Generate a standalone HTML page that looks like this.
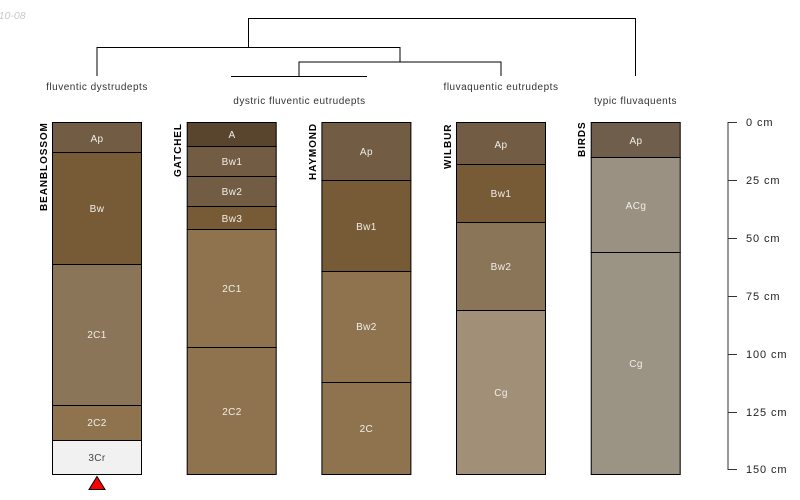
<!DOCTYPE html>
<html><head><meta charset="utf-8"><style>
html,body{margin:0;padding:0;background:#fff}
svg{display:block}
text{font-family:"Liberation Sans",sans-serif}
</style></head><body>
<svg width="800" height="500" viewBox="0 0 800 500" xmlns="http://www.w3.org/2000/svg">
<text x="-13" y="19" font-size="10.5" font-style="italic" fill="#c8c8c8">2010-08</text>
<g fill="none" stroke="#000" stroke-width="1">
<path d="M248.500 47.500V18.500H635.500V76"/>
<path d="M97 76V47.500H400V62"/>
<path d="M299 76V62H501V76"/>
<path d="M231 76.500H367"/>
</g>
<g font-size="10" fill="#333" text-anchor="middle" letter-spacing="0.5">
<text x="97" y="90">fluventic dystrudepts</text>
<text x="299.500" y="104">dystric fluventic eutrudepts</text>
<text x="501" y="90">fluvaquentic eutrudepts</text>
<text x="635.500" y="104">typic fluvaquents</text>
</g>
<g stroke="#000" stroke-width="1">
<rect x="52.500" y="122.500" width="89" height="30" fill="#725C44"/>
<rect x="52.500" y="152.500" width="89" height="112" fill="#775B36"/>
<rect x="52.500" y="264.500" width="89" height="141" fill="#8B7558"/>
<rect x="52.500" y="405.500" width="89" height="35" fill="#8F734F"/>
<rect x="52.500" y="440.500" width="89" height="34" fill="#F1F1F1"/>
<rect x="187.200" y="122.500" width="89" height="24" fill="#59452E"/>
<rect x="187.200" y="146.500" width="89" height="30" fill="#725C44"/>
<rect x="187.200" y="176.500" width="89" height="30" fill="#725C44"/>
<rect x="187.200" y="206.500" width="89" height="23" fill="#775B36"/>
<rect x="187.200" y="229.500" width="89" height="118" fill="#8F734F"/>
<rect x="187.200" y="347.500" width="89" height="127" fill="#8F734F"/>
<rect x="321.900" y="122.500" width="89" height="58" fill="#725C44"/>
<rect x="321.900" y="180.500" width="89" height="91" fill="#775B36"/>
<rect x="321.900" y="271.500" width="89" height="111" fill="#8F734F"/>
<rect x="321.900" y="382.500" width="89" height="92" fill="#8F734F"/>
<rect x="456.500" y="122.500" width="89" height="42" fill="#725C44"/>
<rect x="456.500" y="164.500" width="89" height="58" fill="#775B36"/>
<rect x="456.500" y="222.500" width="89" height="88" fill="#8B7558"/>
<rect x="456.500" y="310.500" width="89" height="164" fill="#A18F78"/>
<rect x="591.200" y="122.500" width="89" height="35" fill="#6F5E4B"/>
<rect x="591.200" y="157.500" width="89" height="95" fill="#9B9183"/>
<rect x="591.200" y="252.500" width="89" height="222" fill="#9B9384"/>
</g>
<g font-size="10" fill="#f0eee8" text-anchor="middle" letter-spacing="0.4">
<text x="97" y="142">Ap</text><text x="97" y="212">Bw</text><text x="97" y="338">2C1</text><text x="97" y="426">2C2</text>
<text x="97" y="461" fill="#444">3Cr</text>
<text x="232" y="138">A</text><text x="232" y="165">Bw1</text><text x="232" y="195">Bw2</text><text x="232" y="222">Bw3</text><text x="232" y="292">2C1</text><text x="232" y="415">2C2</text>
<text x="366.400" y="155">Ap</text><text x="366.400" y="230">Bw1</text><text x="366.400" y="330">Bw2</text><text x="366.400" y="432">2C</text>
<text x="501" y="148">Ap</text><text x="501" y="197">Bw1</text><text x="501" y="270">Bw2</text><text x="501" y="396">Cg</text>
<text x="636" y="144">Ap</text><text x="636" y="209">ACg</text><text x="636" y="367">Cg</text>
</g>
<g font-size="10" font-weight="bold" fill="#000" letter-spacing="0.9">
<text transform="translate(47 211) rotate(-90)">BEANBLOSSOM</text>
<text transform="translate(181 177) rotate(-90)">GATCHEL</text>
<text transform="translate(316 180) rotate(-90)">HAYMOND</text>
<text transform="translate(451 169) rotate(-90)">WILBUR</text>
<text transform="translate(585 157) rotate(-90)">BIRDS</text>
</g>
<path d="M97 476.500L105 489.500H89Z" fill="#f00" stroke="#000" stroke-width="1"/>
<g fill="none">
<path d="M728 122V470" stroke="#777" stroke-width="1.500"/>
<path d="M728 122.500H737M728 180.500H737M728 238.500H737M728 296.500H737M728 354.500H737M728 412.500H737M728 469.500H737" stroke="#333"/>
</g>
<g font-size="11" fill="#222" letter-spacing="0.9">
<text x="746" y="126">0 cm</text><text x="746" y="184">25 cm</text><text x="746" y="242">50 cm</text><text x="746" y="300">75 cm</text><text x="746" y="358">100 cm</text><text x="746" y="416">125 cm</text><text x="746" y="473">150 cm</text>
</g>
</svg>
</body></html>
